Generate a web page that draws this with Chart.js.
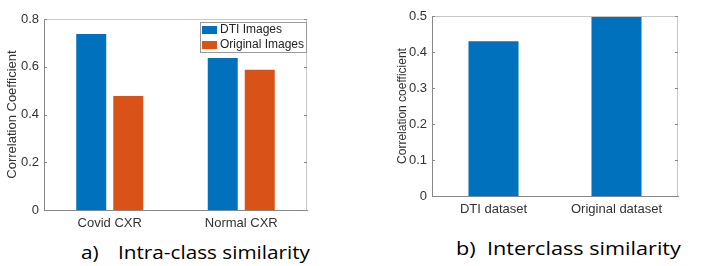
<!DOCTYPE html>
<html>
<head>
<meta charset="utf-8">
<script src="https://cdn.jsdelivr.net/npm/chart.js@4.4.0/dist/chart.umd.min.js"></script>
<style>
    body { margin: 0; background: #fff; width: 709px; height: 266px; overflow: hidden; position: relative; }
    .box { position: absolute; }
    .cap { position: absolute; font-family: 'Open Sans', sans-serif; font-size: 19px; color: #000; white-space: pre; line-height: 1; transform-origin: 0 0; }
</style>
</head>
<body>
<div class="box" style="left:0;top:0;width:320px;height:235px;"><canvas id="intraChart"></canvas></div>
<div class="box" style="left:380px;top:0;width:310px;height:225px;"><canvas id="interChart"></canvas></div>
<div class="cap" style="left:81px;top:243px;transform:scaleX(1.09);">a)</div>
<div class="cap" style="left:118px;top:243px;transform:scaleX(1.09);">Intra-class similarity</div>
<div class="cap" style="left:456px;top:239px;transform:scaleX(1.14);">b)</div>
<div class="cap" style="left:487px;top:239px;transform:scaleX(1.14);">Interclass similarity</div>

<script>
// chart a) intra-class
const intraLabels = ['Covid CXR', 'Normal CXR'];
const dtiImages = [0.737, 0.637];
const originalImages = [0.478, 0.587];
const intraTicks = [0, 0.2, 0.4, 0.6, 0.8];

// chart b) interclass
const interLabels = ['DTI dataset', 'Original dataset'];
const interValues = [0.43, 0.5];
const interTicks = [0, 0.1, 0.2, 0.3, 0.4, 0.5];

const BLUE = '#0072BD';
const ORANGE = '#D95319';

document.addEventListener("DOMContentLoaded", function () {
    Chart.defaults.font.family = "'Liberation Sans', Arial, sans-serif";
    Chart.defaults.color = '#333';

    // top/right frame + inward tick marks, matlab style
    const framePlugin = {
        id: 'frame',
        afterDraw(chart) {
            const a = chart.chartArea;
            const c = chart.ctx;
            c.save();
            c.strokeStyle = '#c8c8c8';
            c.lineWidth = 1;
            c.beginPath();
            c.moveTo(a.left, a.top + 0.5);
            c.lineTo(a.right - 0.5, a.top + 0.5);
            c.lineTo(a.right - 0.5, a.bottom);
            c.stroke();
            c.strokeStyle = '#888';
            const y = chart.scales.y;
            y.ticks.forEach(t => {
                const py = Math.round(y.getPixelForValue(t.value)) + 0.5;
                c.beginPath();
                c.moveTo(a.right - 3, py);
                c.lineTo(a.right, py);
                c.moveTo(a.left, py);
                c.lineTo(a.left + 3, py);
                c.stroke();
            });
            c.restore();
        }
    };

    // legend box inside the top right of the plot
    const boxLegend = {
        id: 'boxLegend',
        afterDraw(chart) {
            if (!chart.options.plugins.boxLegend || !chart.options.plugins.boxLegend.show) return;
            const a = chart.chartArea;
            const c = chart.ctx;
            const w = 106, h = 30;
            const x0 = a.right - w - 1, y0 = a.top + 3;
            c.save();
            c.fillStyle = '#fff';
            c.fillRect(x0, y0, w, h);
            c.strokeStyle = '#999';
            c.lineWidth = 1;
            c.strokeRect(x0 + 0.5, y0 + 0.5, w, h);
            c.font = "12px 'Liberation Sans', Arial, sans-serif";
            c.textBaseline = 'middle';
            chart.data.datasets.forEach((ds, i) => {
                const cy = y0 + 8 + i * 15;
                c.fillStyle = ds.backgroundColor;
                c.fillRect(x0 + 2, cy - 4, 15, 8);
                c.fillStyle = '#222';
                c.fillText(ds.label, x0 + 20, cy);
            });
            c.restore();
        }
    };

    function yScale(maxV, tickVals, titleText, titleSize, titlePad, width) {
        return {
            min: 0,
            max: maxV,
            afterBuildTicks: function (scale) {
                scale.ticks = tickVals.map(v => ({ value: v }));
            },
            afterFit: function (scale) { scale.width = width; },
            grid: { display: false, drawTicks: false },
            border: { color: '#888' },
            ticks: {
                padding: 5,
                font: { size: 13 },
                color: '#333',
                callback: v => String(v)
            },
            title: {
                display: true,
                text: titleText,
                font: { size: titleSize },
                color: '#333',
                padding: { top: titlePad, bottom: 0 }
            }
        };
    }

    function xScale(height) {
        return {
            afterFit: function (scale) { scale.height = height; },
            grid: { display: false, drawTicks: false },
            border: { color: '#888' },
            ticks: { padding: 6, font: { size: 13 }, color: '#333' }
        };
    }

    new Chart(document.getElementById('intraChart'), {
        type: 'bar',
        data: {
            labels: intraLabels,
            datasets: [
                {
                    label: 'DTI Images',
                    data: dtiImages,
                    backgroundColor: BLUE,
                    categoryPercentage: 0.563,
                    barPercentage: 0.81
                },
                {
                    label: 'Original Images',
                    data: originalImages,
                    backgroundColor: ORANGE,
                    categoryPercentage: 0.563,
                    barPercentage: 0.81
                }
            ]
        },
        options: {
            responsive: true,
            maintainAspectRatio: false,
            animation: false,
            layout: { padding: { top: 19, right: 13, left: 0, bottom: 0 } },
            scales: {
                x: xScale(25),
                y: yScale(0.8, intraTicks, 'Correlation Coefficient', 13, 5, 44)
            },
            plugins: {
                legend: { display: false },
                tooltip: { enabled: false },
                boxLegend: { show: true }
            }
        },
        plugins: [framePlugin, boxLegend]
    });

    new Chart(document.getElementById('interChart'), {
        type: 'bar',
        data: {
            labels: interLabels,
            datasets: [{
                label: 'Correlation coefficient',
                data: interValues,
                backgroundColor: BLUE,
                categoryPercentage: 0.407,
                barPercentage: 1
            }]
        },
        options: {
            responsive: true,
            maintainAspectRatio: false,
            animation: false,
            layout: { padding: { top: 16, right: 12, left: 0, bottom: 0 } },
            scales: {
                x: xScale(29),
                y: yScale(0.5, interTicks, 'Correlation coefficient', 12, 15, 52)
            },
            plugins: {
                legend: { display: false },
                tooltip: { enabled: false }
            }
        },
        plugins: [framePlugin]
    });
});
</script>
</body>
</html>
